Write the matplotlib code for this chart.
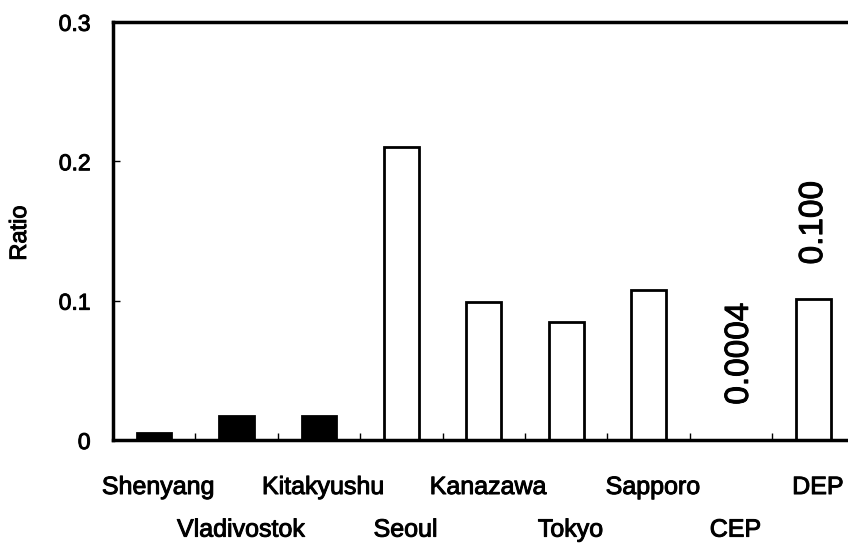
import numpy as np
import matplotlib
matplotlib.use('Agg')
import matplotlib.pyplot as plt
import matplotlib.patheffects as pe

plt.rcParams['font.family'] = ['Liberation Sans', 'DejaVu Sans']

# data
cities = ['Shenyang', 'Vladivostok', 'Kitakyushu', 'Seoul', 'Kanazawa',
          'Tokyo', 'Sapporo', 'CEP', 'DEP']
ratios = [0.005, 0.017, 0.017, 0.210, 0.099, 0.085, 0.108, 0.0004, 0.101]
filled = [True, True, True, False, False, False, False, False, False]
notes = {'CEP': '0.0004', 'DEP': '0.100'}
yticks = [0, 0.1, 0.2, 0.3]
ytick_labels = ['0', '0.1', '0.2', '0.3']

heavy = [pe.withStroke(linewidth=0.7, foreground='black')]  # scanned text looks heavier

fig = plt.figure(figsize=(8.48, 5.46), dpi=100)
ax = fig.add_axes([0.133, 0.194, 0.875, 0.766])

x = np.arange(len(cities))
colors = ['black' if f else 'white' for f in filled]
ax.bar(x, ratios, width=0.42, color=colors, edgecolor='black', linewidth=2)

ax.set_xlim(-0.5, len(cities) - 0.5)
ax.set_ylim(0, 0.3)
ax.set_yticks(yticks)
ax.set_yticklabels(ytick_labels, fontsize=16.5)
for t in ax.get_yticklabels():
    t.set_path_effects(heavy)

# y label placed by hand so it stays inside the figure
fig.text(20 / 848, 1 - 233 / 546, 'Ratio', fontsize=17, rotation=90,
         ha='center', va='center', path_effects=heavy)

# category boundary ticks, no labels on the axis itself
ax.set_xticks(np.arange(len(cities)) + 0.5)
ax.set_xticklabels([])
ax.tick_params(axis='x', direction='in', length=5, width=1)
ax.tick_params(axis='y', direction='in', length=5, width=1, pad=16)

for s in ['left', 'top', 'bottom']:
    ax.spines[s].set_linewidth(2.5)
ax.spines['right'].set_visible(False)

# staggered city names below the axis
for i, name in enumerate(cities):
    yfig = 0.130 if i % 2 == 0 else 0.052
    xfig = ax.transData.transform((i, 0))[0] / fig.bbox.width
    fig.text(xfig + 0.005, yfig, name, fontsize=18, ha='center', va='top',
             path_effects=heavy)

# rotated value notes
for name, txt in notes.items():
    i = cities.index(name)
    base = ratios[i] + 0.025
    ax.text(i + 0.1 if name == 'CEP' else i, base, txt, rotation=90,
            fontsize=24, ha='center', va='bottom', path_effects=heavy)

fig.savefig('out.png', dpi=100)
